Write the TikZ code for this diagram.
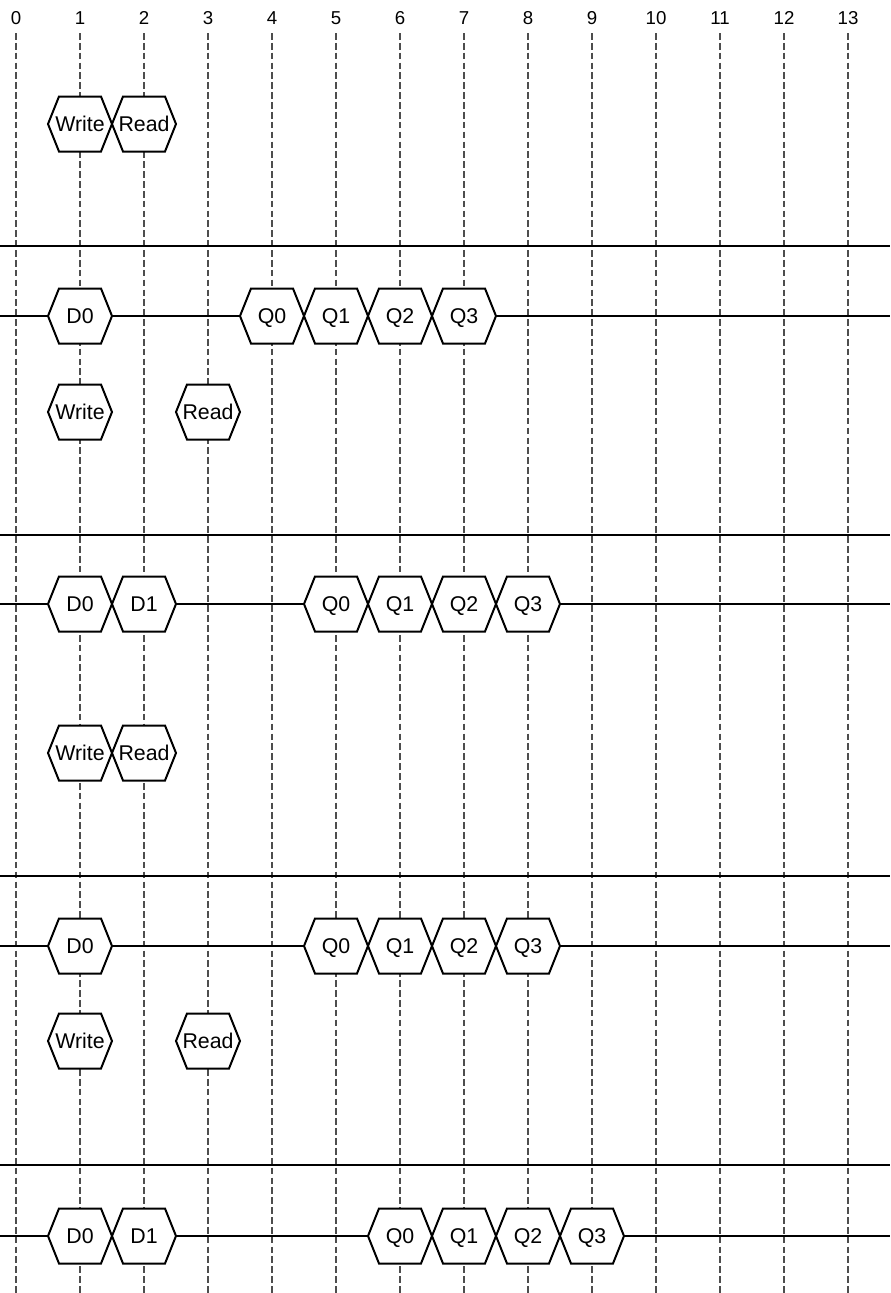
\documentclass[tikz,border=0pt]{standalone}
\usepackage{fontspec}
\setmainfont{Liberation Sans}
\usetikzlibrary{shapes.symbols, positioning}
\definecolor{gridgray}{HTML}{4D4D4D}

\begin{document}
\begin{tikzpicture}[x=48pt, y=-0.75pt,
    slot/.style={shape=signal, signal to=west and east, signal pointer angle=136.4, draw, line width=1.5pt, fill=white, minimum width=48pt, minimum height=41.25pt, inner sep=0pt, outer sep=0pt, text height=11.5pt, text depth=0pt, font=\fontsize{16}{18}\selectfont,
        execute at begin node={\hbox to 0pt\bgroup\hss}, execute at end node={\hss\egroup}},
    tick/.style={font=\fontsize{14}{16}\selectfont},
    grid/.style={draw=gridgray, line width=0.8pt, dash pattern=on 5pt off 2.4pt},
    line/.style={draw, line width=1.5pt}]
    \useasboundingbox (-0.25,0) rectangle (13.65625,1293);

    % time axis
    \foreach \t in {0,...,13} {
        \node [tick] (t\t) at (\t,18) {\t};
        \coordinate (g\t) at (\t,1293);
        \path [grid] (\t,33) -- (g\t);
    }

    % separators
    \foreach \y [count=\i] in {246,535,876,1165} {
        \coordinate (sl\i) at (-0.25,\y);
        \coordinate (sr\i) at (13.65625,\y);
        \path [line] (sl\i) -- (sr\i);
    }

    % command row
    \node [slot] (aw) at (1,124) {Write};
    \node [slot, right=0pt of aw] (ar) {Read};

    % bus 1
    \coordinate (bl1) at (-0.25,316);
    \coordinate (br1) at (13.65625,316);
    \node [slot] (ad0) at (1,316) {D0};
    \node [slot] (aq0) at (4,316) {Q0};
    \node [slot, right=0pt of aq0] (aq1) {Q1};
    \node [slot, right=0pt of aq1] (aq2) {Q2};
    \node [slot, right=0pt of aq2] (aq3) {Q3};
    \path [line] (bl1) -- (ad0.west);
    \path [line] (ad0.east) -- (aq0.west);
    \path [line] (aq3.east) -- (br1);

    \node [slot] (bw) at (1,412) {Write};
    \node [slot] (br) at (3,412) {Read};

    % bus 2
    \coordinate (bl2) at (-0.25,604);
    \coordinate (br2) at (13.65625,604);
    \node [slot] (bd0) at (1,604) {D0};
    \node [slot, right=0pt of bd0] (bd1) {D1};
    \node [slot] (bq0) at (5,604) {Q0};
    \node [slot, right=0pt of bq0] (bq1) {Q1};
    \node [slot, right=0pt of bq1] (bq2) {Q2};
    \node [slot, right=0pt of bq2] (bq3) {Q3};
    \path [line] (bl2) -- (bd0.west);
    \path [line] (bd1.east) -- (bq0.west);
    \path [line] (bq3.east) -- (br2);

    \node [slot] (cw) at (1,753) {Write};
    \node [slot, right=0pt of cw] (cr) {Read};

    % bus 3
    \coordinate (bl3) at (-0.25,946);
    \coordinate (br3) at (13.65625,946);
    \node [slot] (cd0) at (1,946) {D0};
    \node [slot] (cq0) at (5,946) {Q0};
    \node [slot, right=0pt of cq0] (cq1) {Q1};
    \node [slot, right=0pt of cq1] (cq2) {Q2};
    \node [slot, right=0pt of cq2] (cq3) {Q3};
    \path [line] (bl3) -- (cd0.west);
    \path [line] (cd0.east) -- (cq0.west);
    \path [line] (cq3.east) -- (br3);

    \node [slot] (dw) at (1,1041) {Write};
    \node [slot] (dr) at (3,1041) {Read};

    % bus 4
    \coordinate (bl4) at (-0.25,1236);
    \coordinate (br4) at (13.65625,1236);
    \node [slot] (dd0) at (1,1236) {D0};
    \node [slot, right=0pt of dd0] (dd1) {D1};
    \node [slot] (dq0) at (6,1236) {Q0};
    \node [slot, right=0pt of dq0] (dq1) {Q1};
    \node [slot, right=0pt of dq1] (dq2) {Q2};
    \node [slot, right=0pt of dq2] (dq3) {Q3};
    \path [line] (bl4) -- (dd0.west);
    \path [line] (dd1.east) -- (dq0.west);
    \path [line] (dq3.east) -- (br4);
\end{tikzpicture}
\end{document}
